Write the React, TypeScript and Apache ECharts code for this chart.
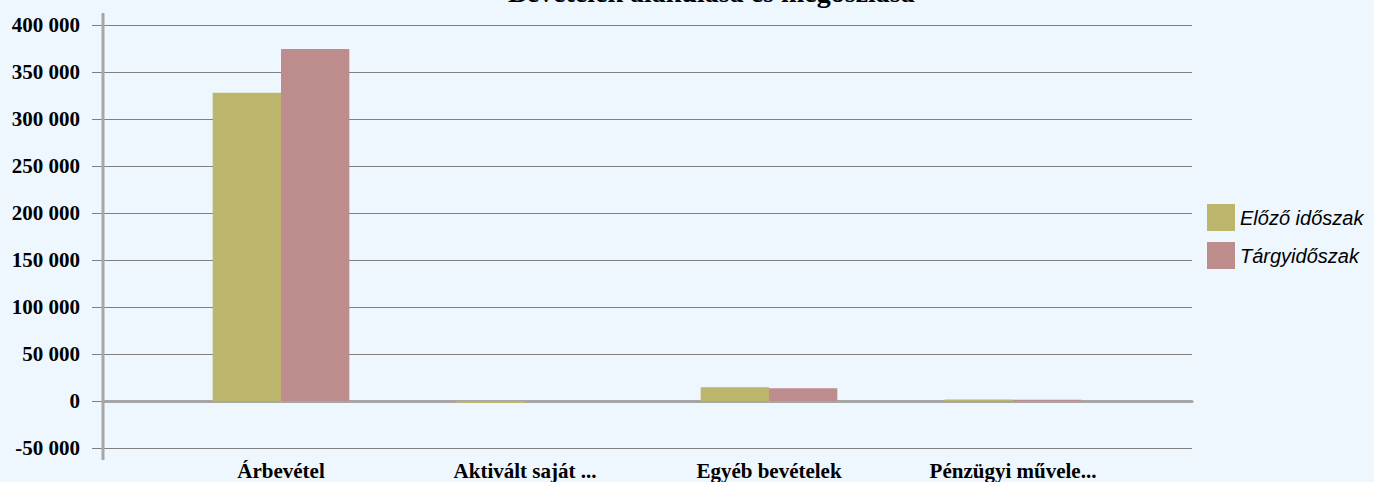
import React, { useEffect, useRef } from "react";
import * as echarts from "echarts";

const titleText = "Bevételek alakulása és megoszlása";
const categories = ["Árbevétel", "Aktivált saját ...", "Egyéb bevételek", "Pénzügyi művele..."];
const seriesNames = ["Előző időszak", "Tárgyidőszak"];
const previousValues = [328000, -2000, 14600, 1700];
const currentValues = [374500, 0, 13500, 1400];
const yMin = -50000;
const yMax = 400000;
const yInterval = 50000;

const fmt = (v: number) => {
  const s = Math.abs(v).toString().replace(/\B(?=(\d{3})+(?!\d))/g, " ");
  return (v < 0 ? "-" : "") + s;
};

export default function App() {
  const ref = useRef<HTMLDivElement>(null);
  useEffect(() => {
    if (!ref.current) return;
    const chart = echarts.init(ref.current, null, { renderer: "svg" });
    const serif = "'Liberation Serif', 'Times New Roman', serif";
    chart.setOption({
      animation: false,
      backgroundColor: "#EEF6FE",
      grid: [
        { left: 103, right: 182, top: 25, bottom: 34, containLabel: false, outerBoundsMode: "none" },
        { left: 159, right: 239, top: 25, bottom: 34, containLabel: false, outerBoundsMode: "none" },
      ],
      legend: {
        orient: "vertical",
        left: 1202,
        top: 199,
        itemWidth: 28,
        itemHeight: 27,
        itemGap: 11,
        icon: "rect",
        data: seriesNames,
        textStyle: {
          fontFamily: "'Liberation Sans', Arial, sans-serif",
          fontStyle: "italic",
          fontSize: 20,
          color: "#000",
        },
      },
      graphic: [
        {
          type: "text",
          left: 508,
          y: -22,
          style: {
            text: titleText,
            font: "bold 28px 'Liberation Serif', serif",
            fill: "#000",
          },
        },
        {
          type: "line",
          shape: { x1: 103, y1: 13, x2: 103, y2: 460 },
          style: { stroke: "#A6A6A6", lineWidth: 3 },
          z: 10,
        },
      ],
      xAxis: [
        {
          type: "category",
          gridIndex: 0,
          data: categories,
          axisLine: { show: true, onZero: true, lineStyle: { color: "#A6A6A6", width: 3 } },
          axisTick: { show: false },
          axisLabel: { show: false },
          splitLine: { show: false },
        },
        {
          type: "category",
          gridIndex: 1,
          data: categories,
          axisLine: { show: false, onZero: false },
          axisTick: { show: false },
          axisLabel: {
            margin: 12,
            fontFamily: serif,
            fontWeight: "bold",
            fontSize: 21,
            color: "#000",
            interval: 0,
          },
        },
      ],
      yAxis: [
        {
          type: "value",
          gridIndex: 0,
          min: yMin,
          max: yMax,
          interval: yInterval,
          axisLine: { show: false },
          axisTick: { show: true, length: 11, lineStyle: { color: "#808080" } },
          axisLabel: {
            margin: 23,
            formatter: (v: number) => fmt(v),
            fontFamily: serif,
            fontWeight: "bold",
            fontSize: 21,
            color: "#000",
          },
          splitLine: { show: true, lineStyle: { color: "#808080", width: 1 } },
        },
        {
          type: "value",
          gridIndex: 1,
          min: yMin,
          max: yMax,
          interval: yInterval,
          show: false,
          splitLine: { show: false },
        },
      ],
      series: [
        {
          name: seriesNames[0],
          type: "bar",
          xAxisIndex: 1,
          yAxisIndex: 1,
          data: previousValues,
          barGap: "0%",
          barCategoryGap: "44%",
          itemStyle: { color: "#BCB66C" },
        },
        {
          name: seriesNames[1],
          type: "bar",
          xAxisIndex: 1,
          yAxisIndex: 1,
          data: currentValues,
          barGap: "0%",
          barCategoryGap: "44%",
          itemStyle: { color: "#BC8D8C" },
        },
      ],
    });
    return () => chart.dispose();
  }, []);
  return <div ref={ref} style={{ width: 1374, height: 482, position: "absolute", left: 0, top: 0 }} />;
}
